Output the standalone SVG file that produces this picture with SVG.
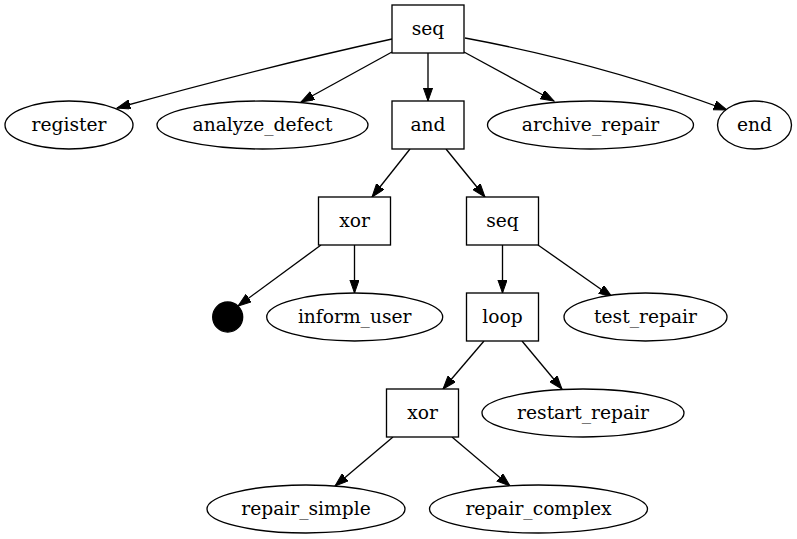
<svg xmlns="http://www.w3.org/2000/svg" width="797" height="539" viewBox="0 0 797 539">
<defs>
<marker id="ah" markerUnits="userSpaceOnUse" markerWidth="14" markerHeight="10" refX="13.3" refY="4.7" orient="auto">
<polygon points="0,0 13.3,4.7 0,9.4" fill="#000" stroke="#000" stroke-width="1"/>
</marker>
<style>
.n{fill:#fff;stroke:#000;stroke-width:1.33}
.e{fill:none;stroke:#000;stroke-width:1.33;marker-end:url(#ah)}
</style>
</defs>
<rect width="797" height="539" fill="#fff"/>
<g id="edges">
<path class="e" d="M392,39 Q260,68 117,108"/>
<path class="e" d="M392,52 L301,102"/>
<path class="e" d="M428,53 L428,101"/>
<path class="e" d="M464,52 L554,101"/>
<path class="e" d="M465,38 Q600,63 727,110"/>
<path class="e" d="M410,149 L372,197"/>
<path class="e" d="M446,149 L485,197"/>
<path class="e" d="M321,245 L238,306"/>
<path class="e" d="M354.5,245 L354.5,293"/>
<path class="e" d="M502.5,245 L502.5,293"/>
<path class="e" d="M538,245 L612,297"/>
<path class="e" d="M484,341 L443,389"/>
<path class="e" d="M522,341 L562,389"/>
<path class="e" d="M393,437 L335,486"/>
<path class="e" d="M452,437 L510,486"/>
</g>
<g font-family="DejaVu Serif, Liberation Serif, serif" font-size="18.67" text-anchor="middle" fill="#000">
<g id="seq1"><rect class="n" x="392" y="5" width="72" height="48"/><text x="428" y="35">seq</text></g>
<g id="register"><ellipse class="n" cx="69" cy="125" rx="64" ry="24"/><text x="69" y="131">register</text></g>
<g id="analyze_defect"><ellipse class="n" cx="262.5" cy="125" rx="105.5" ry="24"/><text x="262.5" y="131">analyze_defect</text></g>
<g id="and"><rect class="n" x="392" y="101" width="72" height="48"/><text x="428" y="131">and</text></g>
<g id="archive_repair"><ellipse class="n" cx="590.5" cy="125" rx="103" ry="24"/><text x="590.5" y="131">archive_repair</text></g>
<g id="end"><ellipse class="n" cx="754.5" cy="125" rx="37" ry="24"/><text x="754.5" y="131">end</text></g>
<g id="xor1"><rect class="n" x="318.5" y="197" width="72" height="48"/><text x="354.5" y="227">xor</text></g>
<g id="seq2"><rect class="n" x="466.5" y="197" width="72" height="48"/><text x="502.5" y="227">seq</text></g>
<g id="tau"><circle cx="227.7" cy="317" r="15" fill="#000" stroke="#000" stroke-width="1.33"/></g>
<g id="inform_user"><ellipse class="n" cx="354.7" cy="317" rx="88" ry="24"/><text x="354.7" y="323">inform_user</text></g>
<g id="loop"><rect class="n" x="466.5" y="293" width="72" height="48"/><text x="502.5" y="323">loop</text></g>
<g id="test_repair"><ellipse class="n" cx="645.5" cy="317" rx="81.5" ry="24"/><text x="645.5" y="323">test_repair</text></g>
<g id="xor2"><rect class="n" x="386.5" y="389" width="72" height="48"/><text x="422.5" y="419">xor</text></g>
<g id="restart_repair"><ellipse class="n" cx="583" cy="413" rx="101" ry="24"/><text x="583" y="419">restart_repair</text></g>
<g id="repair_simple"><ellipse class="n" cx="306" cy="509" rx="99" ry="24"/><text x="306" y="515">repair_simple</text></g>
<g id="repair_complex"><ellipse class="n" cx="538.5" cy="509" rx="109" ry="24"/><text x="538.5" y="515">repair_complex</text></g>
</g>
</svg>
